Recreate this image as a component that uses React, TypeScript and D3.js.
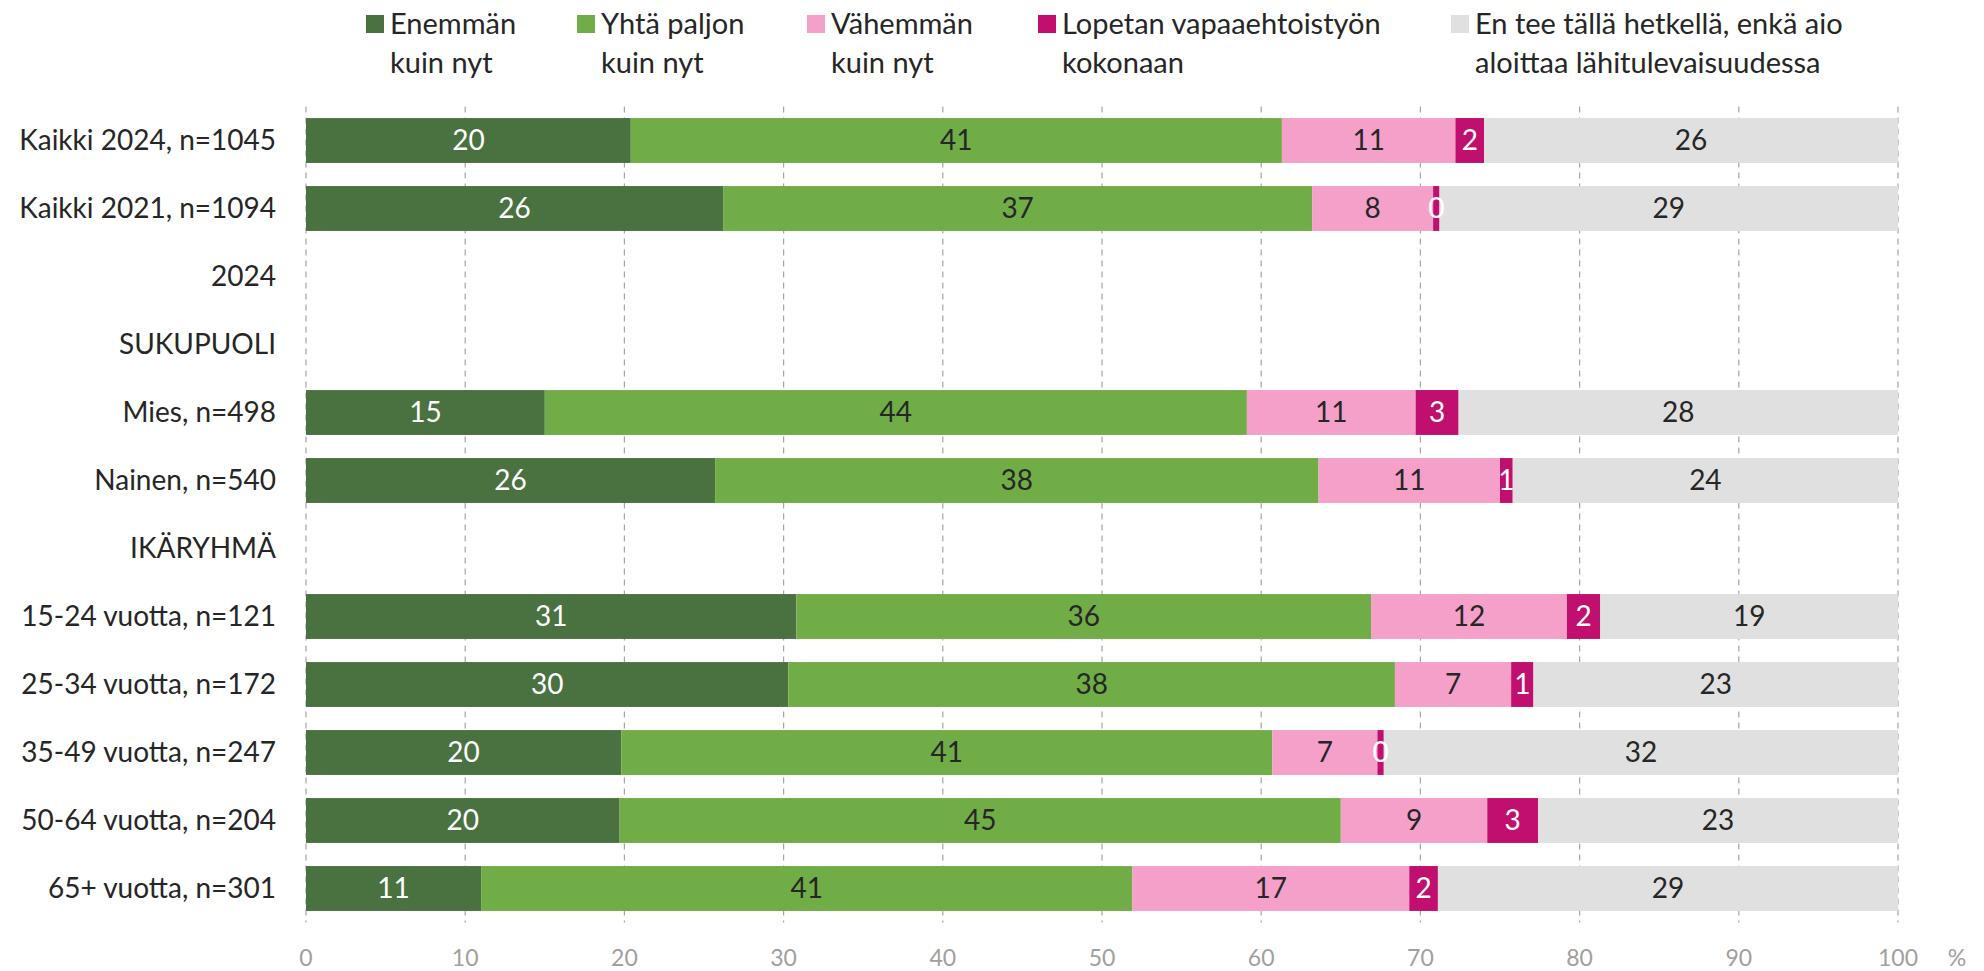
import React from 'react';
import * as d3 from 'd3';

// row labels, top to bottom (header rows carry no values)
const categories = [
  'Kaikki 2024, n=1045',
  'Kaikki 2021, n=1094',
  '2024',
  'SUKUPUOLI',
  'Mies, n=498',
  'Nainen, n=540',
  'IKÄRYHMÄ',
  '15-24 vuotta, n=121',
  '25-34 vuotta, n=172',
  '35-49 vuotta, n=247',
  '50-64 vuotta, n=204',
  '65+ vuotta, n=301',
];

const enemman = [20.4, 26.2, null, null, 15.0, 25.7, null, 30.8, 30.3, 19.8, 19.7, 11.0];
const yhtaPaljon = [40.9, 37.0, null, null, 44.1, 37.9, null, 36.1, 38.1, 40.9, 45.3, 40.9];
const vahemman = [10.9, 7.6, null, null, 10.6, 11.4, null, 12.3, 7.3, 6.6, 9.2, 17.4];
const lopetan = [1.8, 0.4, null, null, 2.7, 0.8, null, 2.1, 1.4, 0.4, 3.2, 1.8];
const enTee = [26.0, 28.8, null, null, 27.6, 24.2, null, 18.7, 22.9, 32.3, 22.6, 28.9];

const seriesNames = [
  ['Enemmän', 'kuin nyt'],
  ['Yhtä paljon', 'kuin nyt'],
  ['Vähemmän', 'kuin nyt'],
  ['Lopetan vapaaehtoistyön', 'kokonaan'],
  ['En tee tällä hetkellä, enkä aio', 'aloittaa lähitulevaisuudessa'],
];
const seriesValues = [enemman, yhtaPaljon, vahemman, lopetan, enTee];
const colors = ['#4a7140', '#70ad47', '#f4a0c8', '#c00f6e', '#e0e0e0'];
const labelColors = ['#ffffff', '#262626', '#262626', '#ffffff', '#262626'];
const xTicks = [0, 10, 20, 30, 40, 50, 60, 70, 80, 90, 100];

// legend item x positions
const legendX = [366, 577, 807, 1038, 1451];

const W = 1984;
const H = 971;
const FONT = 'Lato, "Noto Sans", sans-serif';

export default function App() {
  const x = d3.scaleLinear().domain([0, 100]).range([306, 1898]);
  const y = d3
    .scaleBand()
    .domain(categories)
    .range([106.5, 922.5])
    .paddingInner(0.34)
    .paddingOuter(0.17);

  // build stacked segments
  const segments = [];
  categories.forEach((cat, i) => {
    let acc = 0;
    seriesValues.forEach((vals, s) => {
      const v = vals[i];
      if (v == null) return;
      segments.push({ cat, s, x0: acc, x1: acc + v, v });
      acc += v;
    });
  });

  return (
    <svg
      width={W}
      height={H}
      style={{ position: 'absolute', left: 0, top: 0, background: '#fff' }}
      fontFamily={FONT}
    >
      {/* legend */}
      {seriesNames.map((lines, s) => (
        <g key={s} transform={`translate(${legendX[s]},0)`}>
          <rect x={0} y={15} width={18} height={18} fill={colors[s]} />
          {lines.map((t, k) => (
            <text
              key={k}
              x={24}
              y={24 + k * 39}
              dy="0.35em"
              fontSize={29}
              fill="#262626"
            >
              {t}
            </text>
          ))}
        </g>
      ))}

      {/* grid */}
      {xTicks.map((t) => (
        <line
          key={t}
          x1={x(t)}
          x2={x(t)}
          y1={106.5}
          y2={922.5}
          stroke="#a6a6a6"
          strokeWidth={1.2}
          strokeDasharray="6,5"
        />
      ))}

      {/* row labels */}
      {categories.map((c) => (
        <text
          key={c}
          x={276}
          y={y(c) + y.bandwidth() / 2}
          dy="0.35em"
          textAnchor="end"
          fontSize={28}
          fill="#262626"
        >
          {c}
        </text>
      ))}

      {/* bars */}
      {segments.map((d, i) => (
        <rect
          key={i}
          x={x(d.x0)}
          y={y(d.cat)}
          width={x(d.x1) - x(d.x0)}
          height={y.bandwidth()}
          fill={colors[d.s]}
        />
      ))}
      {segments.map((d, i) => (
        <text
          key={'t' + i}
          x={(x(d.x0) + x(d.x1)) / 2}
          y={y(d.cat) + y.bandwidth() / 2}
          dy="0.35em"
          textAnchor="middle"
          fontSize={28}
          fill={labelColors[d.s]}
        >
          {Math.round(d.v)}
        </text>
      ))}

      {/* x axis labels */}
      {xTicks.map((t) => (
        <text
          key={'x' + t}
          x={x(t)}
          y={958}
          dy="0.35em"
          textAnchor="middle"
          fontSize={23}
          fill="#a0a0a0"
        >
          {t}
        </text>
      ))}
      <text x={1957} y={958} dy="0.35em" textAnchor="middle" fontSize={23} fill="#a0a0a0">
        %
      </text>
    </svg>
  );
}
